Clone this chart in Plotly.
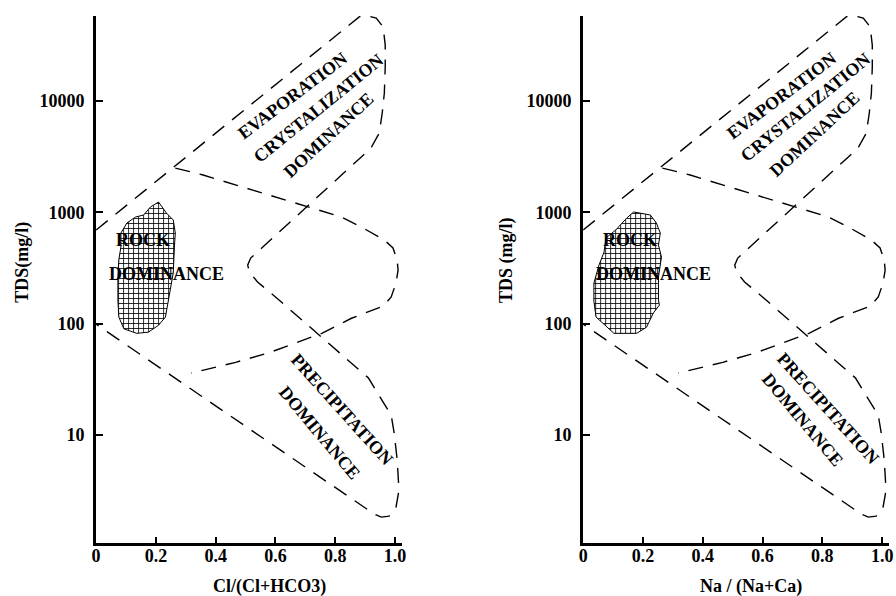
import plotly.graph_objects as go

# ---- tick labels ----
x_ticks = [0, 0.2, 0.4, 0.6, 0.8, 1.0]
x_tick_labels = ["0", "0.2", "0.4", "0.6", "0.8", "1.0"]
y_ticks = [10, 100, 1000, 10000]
y_tick_labels = ["10", "100", "1000", "10000"]

# ---- Gibbs boundary: outer dashed curve (ratio, TDS mg/l) ----
outer_x = [0.0, 0.881, 0.911, 0.937, 0.960, 0.967, 0.967, 0.964, 0.957, 0.947, 0.921, 0.887,
           0.517, 0.507, 0.513, 0.540, 0.600, 0.877, 0.911, 0.960, 0.987, 0.997, 1.007, 1.013,
           1.003, 0.980, 0.954, 0.930, 0.0]
outer_y = [695, 57500, 58000, 55800, 46400, 31900, 20200, 11800, 7820, 5170, 3870, 3150,
           389, 336, 291, 237, 174, 38.4, 32.5, 19.8, 15.1, 10.4, 5.96, 3.2,
           2.25, 1.87, 1.83, 1.95, 99]

# ---- Gibbs boundary: inner dashed curve ----
inner_x = [0.265, 0.358, 0.490, 0.599, 0.712, 0.821, 0.887, 0.964, 0.993, 1.007, 1.010,
           1.003, 0.987, 0.960, 0.854, 0.755, 0.666, 0.579, 0.467, 0.318]
inner_y = [2505, 2170, 1690, 1375, 1118, 910, 740, 565, 479, 373, 303,
           232, 174, 144, 112, 82, 67, 55, 45, 36]

# ---- sample field (rock dominance), left panel: Cl/(Cl+HCO3) ----
rock_left_x = [0.209, 0.235, 0.258, 0.265, 0.262, 0.258, 0.242, 0.232, 0.209, 0.175, 0.136,
               0.093, 0.076, 0.073, 0.073, 0.076, 0.083, 0.083, 0.103, 0.132, 0.159, 0.182, 0.209]
rock_left_y = [1240, 989, 855, 653, 489, 286, 163, 115, 97, 84, 82,
               90, 115, 163, 263, 374, 489, 653, 803, 910, 948, 1120, 1240]

# ---- sample field (rock dominance), right panel: Na/(Na+Ca) ----
rock_right_x = [0.169, 0.225, 0.245, 0.258, 0.252, 0.262, 0.252, 0.252, 0.255, 0.235, 0.212,
                0.179, 0.103, 0.043, 0.036, 0.036, 0.053, 0.070, 0.076, 0.109, 0.146, 0.169]
rock_right_y = [1010, 948, 803, 653, 509, 397, 263, 163, 147, 125, 93,
                82, 82, 115, 160, 232, 336, 441, 589, 695, 891, 1010]

W, H = 896, 596
SERIF = "Liberation Serif"


def px(x):
    return x / W


def py(y):
    return 1 - y / H


fig = go.Figure()

dash_line = dict(color="black", width=1.4, dash="15px,10px")

for xa, ya, rx, ry in [("x", "y", rock_left_x, rock_left_y),
                       ("x2", "y2", rock_right_x, rock_right_y)]:
    fig.add_trace(go.Scatter(x=outer_x, y=outer_y, mode="lines", line=dash_line,
                             xaxis=xa, yaxis=ya, showlegend=False, hoverinfo="skip"))
    fig.add_trace(go.Scatter(x=inner_x, y=inner_y, mode="lines", line=dash_line,
                             xaxis=xa, yaxis=ya, showlegend=False, hoverinfo="skip"))
    fig.add_trace(go.Scatter(x=rx, y=ry, mode="lines", fill="toself",
                             line=dict(color="black", width=1),
                             fillcolor="white",
                             fillpattern=dict(shape="+", size=5, solidity=0.3,
                                              fgcolor="black", bgcolor="white",
                                              fillmode="replace"),
                             xaxis=xa, yaxis=ya, showlegend=False, hoverinfo="skip"))

tickfont = dict(family=SERIF, size=18, color="black", weight="bold")
xcommon = dict(range=[0, 1.023], tickvals=x_ticks, ticktext=x_tick_labels,
               ticks="inside", ticklen=6, tickwidth=1.5, tickcolor="black",
               showline=True, linewidth=3, linecolor="black", ticklabelstandoff=-6,
               showgrid=False, zeroline=False, tickfont=tickfont)
ycommon = dict(type="log", range=[0.03, 4.765], tickvals=y_ticks, ticktext=y_tick_labels,
               ticks="inside", ticklen=7, tickwidth=1.5, tickcolor="black",
               showline=True, linewidth=3, linecolor="black", ticklabelstandoff=5,
               showgrid=False, zeroline=False, tickfont=tickfont)

ydom = [py(543), py(16)]
fig.update_layout(
    width=W, height=H,
    margin=dict(l=0, r=0, t=0, b=0),
    paper_bgcolor="white", plot_bgcolor="white",
    xaxis=dict(domain=[px(92), px(401)], anchor="y", **xcommon),
    yaxis=dict(domain=ydom, anchor="x", **ycommon),
    xaxis2=dict(domain=[px(584), px(893)], anchor="y2", **xcommon),
    yaxis2=dict(domain=ydom, anchor="x2", **ycommon),
)

afont = dict(family=SERIF, size=18, color="black", weight="bold")
tfont = dict(family=SERIF, size=18, color="black", weight="bold")

texts = [
    # (text, px, py, angle, font)
    ("TDS(mg/l)", 17, 262, -90, tfont),
    ("TDS (mg/l)", 507, 260, -90, tfont),
    ("Cl/(Cl+HCO3)", 267, 586, 0, tfont),
    ("Na / (Na+Ca)", 754, 586, 0, tfont),
    # left panel
    ("EVAPORATION", 290, 96, -37, afont),
    ("CRYSTALIZATION", 317, 108, -39, afont),
    ("DOMINANCE", 327, 135, -43, afont),
    ("ROCK", 139, 240, 0, afont),
    ("DOMINANCE", 163, 274, 0, afont),
    ("PRECIPITATION", 340, 409, 48, afont),
    ("DOMINANCE", 318, 433, 50, afont),
    # right panel
    ("EVAPORATION", 784, 96, -37, afont),
    ("CRYSTALIZATION", 809, 107, -39, afont),
    ("DOMINANCE", 818, 134, -43, afont),
    ("ROCK", 631, 240, 0, afont),
    ("DOMINANCE", 655, 274, 0, afont),
    ("PRECIPITATION", 831, 408, 48, afont),
    ("DOMINANCE", 806, 420, 50, afont),
]
for t, x, y, ang, f in texts:
    fig.add_annotation(text=t, x=px(x), y=py(y), xref="paper", yref="paper",
                       xanchor="center", yanchor="middle", textangle=ang,
                       showarrow=False, font=f)

fig.write_html("out.html",
               config={"displayModeBar": False},
               post_script="document.body.style.margin='0';document.body.style.overflow='hidden';")
